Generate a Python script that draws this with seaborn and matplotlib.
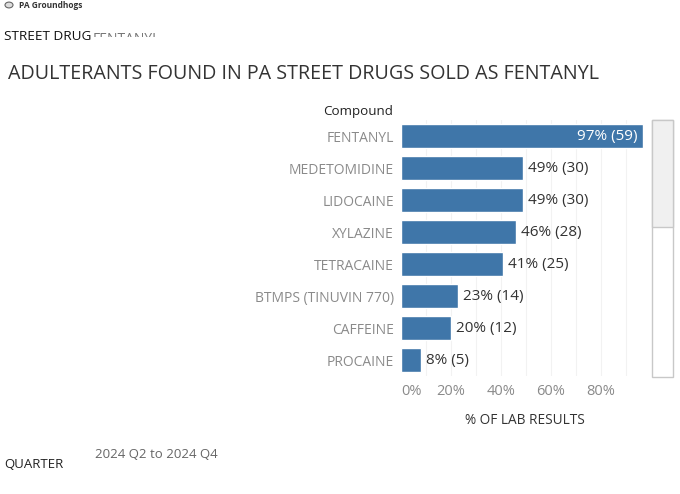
import pandas as pd
import matplotlib.pyplot as plt
import seaborn as sns
from matplotlib.patches import Rectangle, Circle
from matplotlib.transforms import Bbox

compounds = ['FENTANYL', 'MEDETOMIDINE', 'LIDOCAINE', 'XYLAZINE', 'TETRACAINE',
             'BTMPS (TINUVIN 770)', 'CAFFEINE', 'PROCAINE']
pct = [97, 49, 49, 46, 41, 23, 20, 8]
counts = [59, 30, 30, 28, 25, 14, 12, 5]
x_ticks = [0, 20, 40, 60, 80]
x_tick_labels = ['0%', '20%', '40%', '60%', '80%']

df = pd.DataFrame({'Compound': compounds, 'Pct': pct, 'Count': counts})

sns.set_theme(style='white')
plt.rcParams['font.family'] = ['Open Sans', 'DejaVu Sans']

W, H = 680, 494
fig = plt.figure(figsize=(6.8, 4.94), dpi=100)
ax = fig.add_axes([401 / W, 1 - 376 / H, 247 / W, 256 / H])

bar_color = '#3f76a9'
sns.barplot(data=df, x='Pct', y='Compound', orient='h', color=bar_color,
            width=0.78, saturation=1, ax=ax)

ax.set_xlim(0, 99)
ax.set_ylim(len(compounds) - 0.5, -0.5)
for v in range(10, 100, 10):
    ax.axvline(v, color='#f2f2f2', lw=0.8, zorder=0)
ax.set_axisbelow(True)
sns.despine(ax=ax, left=True, bottom=True)

ax.set_xticks(x_ticks)
ax.set_xticklabels(x_tick_labels, color='#8a8a8a', fontsize=10.5)
ax.get_xticklabels()[0].set_horizontalalignment('left')
ax.tick_params(axis='x', length=0, pad=6)
ax.tick_params(axis='y', length=0, pad=5)
ax.set_yticks(range(len(compounds)))
ax.set_yticklabels(compounds, color='#8a8a8a', fontsize=10)
ax.set_ylabel('')
ax.set_xlabel('% OF LAB RESULTS', fontsize=9.8, color='#333333', labelpad=10)

for i, (p, c) in enumerate(zip(pct, counts)):
    label = f'{p}% ({c})'
    if p > 90:
        ax.text(p - 2.4, i, label, color='white', ha='right', va='center', fontsize=11)
    else:
        ax.text(p + 2, i, label, color='#333333', ha='left', va='center', fontsize=11)

fig.text(393 / W, 1 - 112 / H, 'Compound', ha='right', va='center',
         fontsize=9.6, color='#222222')

# header texts
fig.add_artist(Circle((9 / W, 1 - 5 / H), 4 / W, transform=fig.transFigure,
                      facecolor='#dddddd', edgecolor='#666666', lw=0.8))
fig.text(19 / W, 1 - 5 / H, 'PA Groundhogs', fontsize=6, fontweight='bold',
         color='#333333', va='center')
fig.text(4 / W, 1 - 40 / H, 'STREET DRUG', fontsize=9.7, color='#111111', va='baseline')
fent = fig.text(93 / W, 1 - 43 / H, 'FENTANYL', fontsize=10, color='#777777', va='baseline')
fent.set_clip_box(fig.transFigure.transform_bbox(
    Bbox.from_extents(0, 1 - 37.5 / H, 1, 1)))
fent.set_clip_on(True)

fig.text(8 / W, 1 - 74 / H, 'ADULTERANTS FOUND IN PA STREET DRUGS SOLD AS FENTANYL',
         fontsize=14.2, color='#333333', va='center')

fig.text(4 / W, 1 - 464 / H, 'QUARTER', fontsize=9.5, color='#222222', va='center')
fig.text(95 / W, 1 - 454 / H, '2024 Q2 to 2024 Q4', fontsize=9.5, color='#666666', va='center')

# scrollbar
fig.add_artist(Rectangle((652 / W, 1 - 377 / H), 21 / W, 257 / H, transform=fig.transFigure,
                         facecolor='white', edgecolor='#c8c8c8', lw=1))
fig.add_artist(Rectangle((652 / W, 1 - 227 / H), 21 / W, 107 / H, transform=fig.transFigure,
                         facecolor='#f0f0f0', edgecolor='#c8c8c8', lw=1))

fig.savefig('out.png', dpi=100)
